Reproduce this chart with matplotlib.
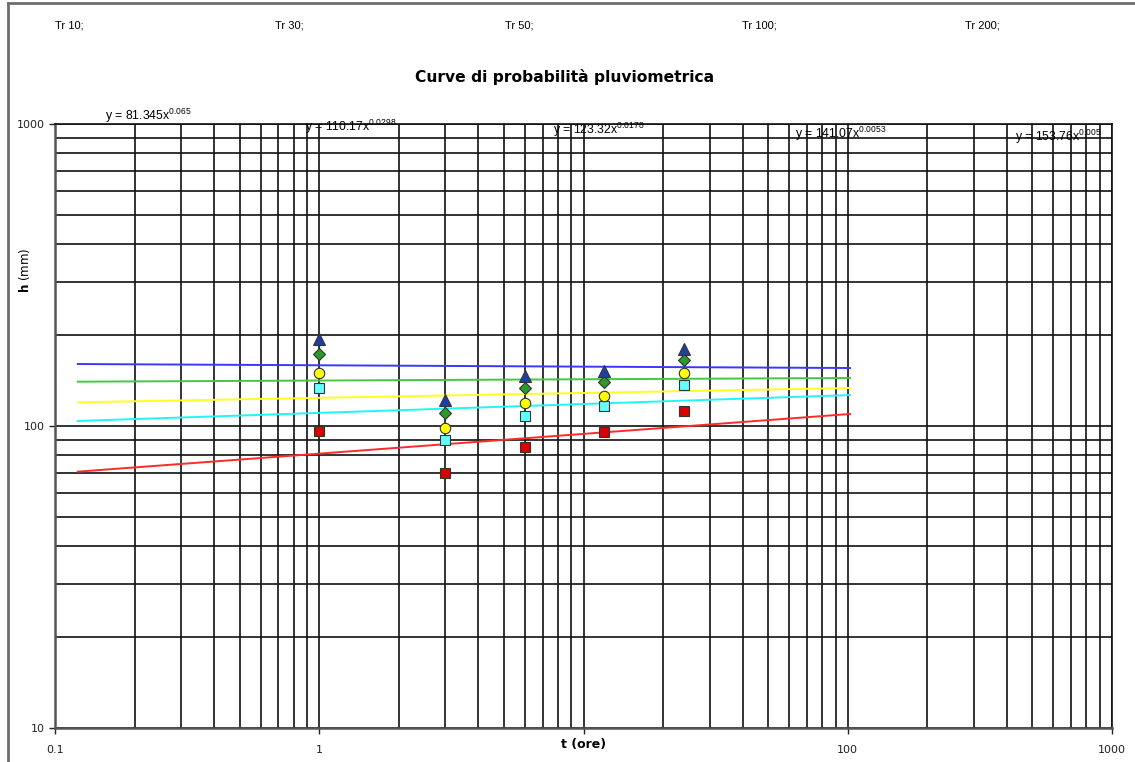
import numpy as np
import matplotlib
matplotlib.use("Agg")
import matplotlib.pyplot as plt
from matplotlib.lines import Line2D

# durate (ore) e altezze di pioggia
durate = [1, 3, 6, 12, 24]
h_tr10 = [96, 70, 85, 95.5, 112]
h_tr30 = [134, 90, 108, 116.5, 137]
h_tr50 = [150, 98.5, 119, 125.5, 150]
h_tr100 = [173, 110.5, 133.5, 140, 165]
h_tr200 = [194, 122, 146.5, 152, 180]

# linee di tendenza (estremi)
t_trend = [0.122, 102]
trend_tr10 = [70.6, 109.6]
trend_tr30 = [103.9, 126.6]
trend_tr50 = [119.8, 133.6]
trend_tr100 = [140.2, 144.2]
trend_tr200 = [160.4, 155.6]

legenda = ["Tr 10;", "Tr 30;", "Tr 50;", "Tr 100;", "Tr 200;"]
coeff_a = ["81.345", "110.17", "123.32", "141.07", "153.76"]
coeff_n = ["0.065", "0.0298", "0.0178", "0.0053", "0.005"]

fig = plt.figure(figsize=(11.35, 7.62), dpi=100)
ax = fig.add_axes([55/1135, 1-728/762, (1112-55)/1135, (728-124)/762])

ax.set_xscale("log")
ax.set_yscale("log")
ax.set_xlim(0.1, 1000)
ax.set_ylim(10, 1000)

# griglia principale e secondaria
ax.grid(True, which="both", color="#111111", lw=1.2)
ax.set_axisbelow(True)

serie = [
    (h_tr10, trend_tr10, "#ff2a2a", "s", "#dd0000", 7.5),
    (h_tr30, trend_tr30, "#22f5f5", "s", "#66ffff", 7.5),
    (h_tr50, trend_tr50, "#ffff22", "o", "#ffff00", 7.5),
    (h_tr100, trend_tr100, "#44c844", "D", "#2a9a2a", 6),
    (h_tr200, trend_tr200, "#3838ff", "^", "#1f3fa0", 8),
]
for h, tr, col_linea, mk, col_mk, ms in serie:
    ax.plot(t_trend, tr, color=col_linea, lw=1.4, zorder=3)
for h, tr, col_linea, mk, col_mk, ms in serie:
    ax.plot(durate, h, ls="none", marker=mk, ms=ms, mfc=col_mk,
            mec="#333333", mew=0.8, zorder=4)

ax.set_xticks([0.1, 1, 10, 100, 1000])
ax.set_xticklabels(["0.1", "1", "", "100", "1000"])
ax.set_yticks([10, 100, 1000])
ax.set_yticklabels(["10", "100", "1000"])
ax.xaxis.set_minor_formatter(matplotlib.ticker.NullFormatter())
ax.yaxis.set_minor_formatter(matplotlib.ticker.NullFormatter())
ax.tick_params(which="major", length=4, width=1, labelsize=8, pad=3, colors="#222222")
ax.tick_params(which="minor", length=0)
ax.tick_params(axis="x", pad=8)

for s in ["left", "bottom"]:
    ax.spines[s].set_color("#555555")
    ax.spines[s].set_linewidth(1.8)
for s in ["top", "right"]:
    ax.spines[s].set_color("#111111")
    ax.spines[s].set_linewidth(1.2)

ax.set_xlabel("t (ore)", fontsize=9, fontweight="bold")
ax.xaxis.set_label_coords(0.5, -0.028)
ax.xaxis.label.set_va("center")
ax.set_ylabel(r"$\mathbf{h}$ (mm)", fontsize=8.5)
ax.yaxis.set_label_coords(-0.022, 0.758)

fig.text(565/1135, 1-77/762, "Curve di probabilità pluviometrica",
         ha="center", va="center", fontsize=11.2, fontweight="bold")

# legenda in alto (solo testo)
leg_x = [55, 275, 505, 742, 965]
for xp, lab in zip(leg_x, legenda):
    fig.text(xp/1135, 1-25/762, lab, ha="left", va="center", fontsize=8,
             family="Liberation Sans")

# equazioni delle linee di tendenza
eq_x = [105, 305, 553, 795, 1015]
eq_y = [116, 127, 130, 134, 137]
for xp, yp, a, n in zip(eq_x, eq_y, coeff_a, coeff_n):
    fig.text(xp/1135, 1-yp/762, "y = " + a + "x$^{\\mathregular{" + n + "}}$",
             ha="left", va="center", fontsize=8.8, family="Liberation Sans", zorder=5)

# cornice del grafico
fig.add_artist(Line2D([8/1135, 8/1135], [0, 1-3/762], color="#6e6e6e", lw=2))
fig.add_artist(Line2D([8/1135, 1], [1-3/762, 1-3/762], color="#6e6e6e", lw=2))

fig.savefig("out.png", dpi=100)
